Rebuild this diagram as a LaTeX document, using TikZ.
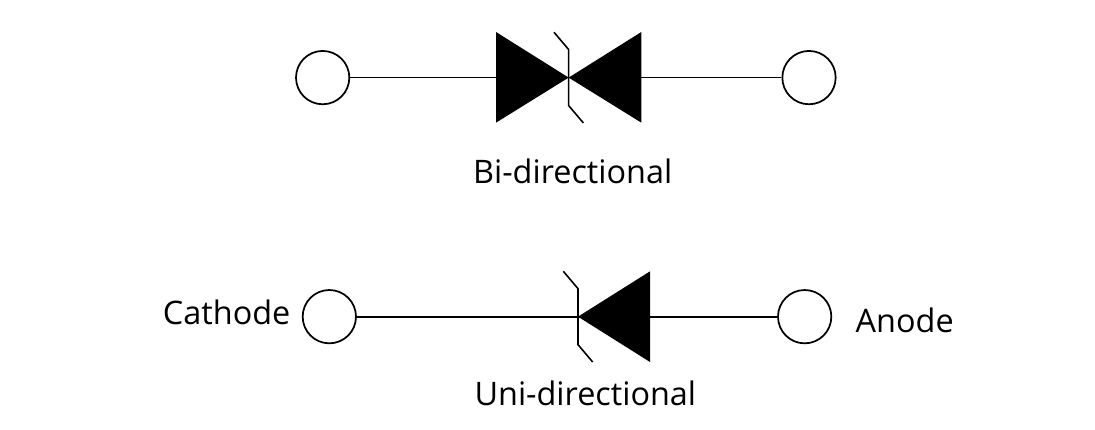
\documentclass[tikz,border=0pt]{standalone}
\usepackage{fontspec}
\setmainfont{Open Sans}
\usetikzlibrary{positioning}
\begin{document}
\begin{tikzpicture}[x=1pt, y=-1pt, line width=1.3pt]
  \tikzstyle{terminal}=[draw, circle, minimum size=40pt, inner sep=0pt, fill=white]
  \tikzstyle{lbl}=[inner sep=0pt, font=\fontsize{24.3}{24.3}\selectfont]
  \useasboundingbox (0,0) rectangle (821.25,321.75);
  \node[terminal] (t1) at (242,58.2) {};
  \node[terminal] (t2) at (606.75,58.2) {};
  \node[terminal] (t3) at (247,237.5) {};
  \node[terminal] (t4) at (603.5,237.5) {};
  \coordinate (bi) at (426.5,58.2);
  \coordinate (bileft) at (372,58.2);
  \coordinate (biright) at (481,58.2);
  \coordinate (uni) at (433.5,237.5);
  \node[lbl] (bilabel) at (429.5,128.5) {Bi-directional};
  \node[lbl] (unilabel) at (439,295) {Uni-directional};
  \node[lbl] (cathode) at (170,234) {Cathode};
  \node[lbl] (anode) at (678.5,240.5) {Anode};

  % diode bodies
  \fill (bi) -- (bileft |- 0,24) -- (bileft |- 0,92) -- cycle;
  \fill (bi) -- (biright |- 0,24) -- (biright |- 0,92) -- cycle;
  \fill (uni) -- ++(54,-34) -- ++(0,68) -- cycle;
  \draw[line width=1.2pt] (bi) ++(-11,-34) -- ++(11,13) -- ++(0,42) -- ++(11,13);
  \draw[line width=1.2pt] (uni) ++(-11,-34) -- ++(11,13) -- ++(0,42) -- ++(11,13);
  \draw (t1) -- (bileft);
  \draw (t2) -- (biright);
  \draw (t3) -- (uni);
  \draw (t4) -- (uni);
\end{tikzpicture}
\end{document}
